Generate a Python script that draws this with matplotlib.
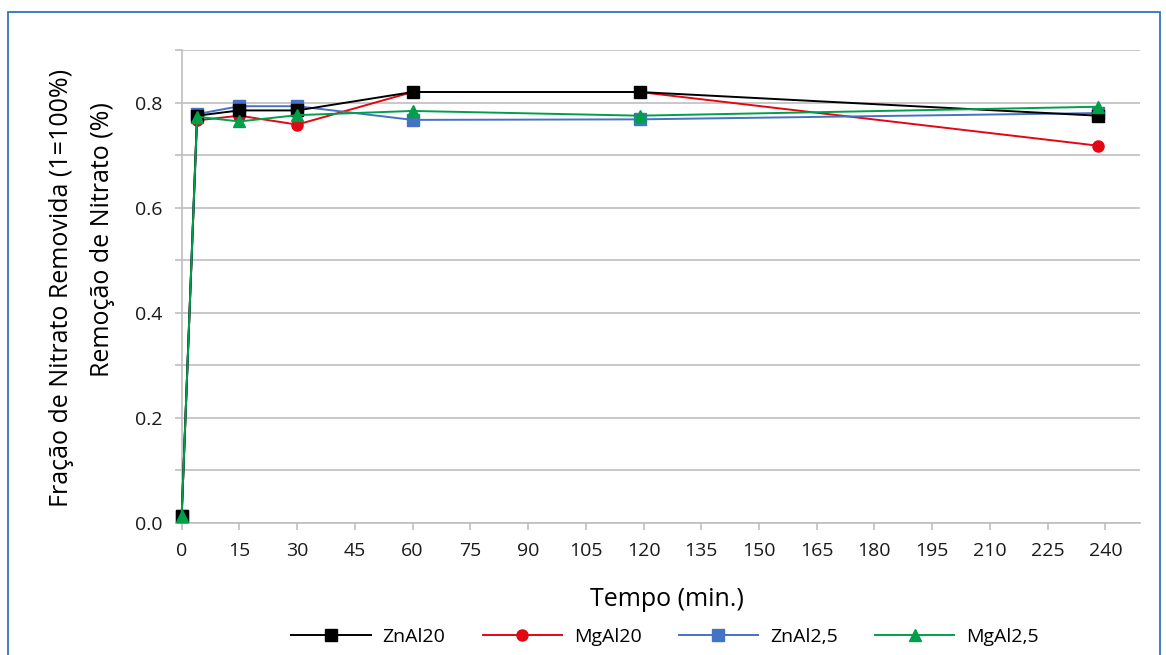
import matplotlib
matplotlib.use("Agg")
import matplotlib.pyplot as plt
from matplotlib.patches import Rectangle
from matplotlib.ticker import MultipleLocator, FuncFormatter

plt.rcParams['font.family'] = ['Open Sans', 'DejaVu Sans']

# tempo (min.) and fraction of nitrate removed
tempo = [0, 4, 15, 30, 60, 119, 238]
znal20 = [0.013, 0.775, 0.785, 0.785, 0.820, 0.820, 0.775]
mgal20 = [0.013, 0.766, 0.775, 0.758, 0.820, 0.820, 0.718]
znal25 = [0.013, 0.778, 0.793, 0.793, 0.767, 0.768, 0.780]
mgal25 = [0.013, 0.773, 0.764, 0.776, 0.784, 0.775, 0.792]

series = [
    # label, values, colour, marker, zorder
    ("ZnAl20", znal20, "#000000", "s", 5),
    ("MgAl20", mgal20, "#E30613", "o", 3),
    ("ZnAl2,5", znal25, "#4472C4", "s", 4),
    ("MgAl2,5", mgal25, "#00A04A", "^", 6),
]

fig = plt.figure(figsize=(11.66, 6.55), dpi=100)
ax = fig.add_axes([0.1558, 0.2015, 0.9777 - 0.1558, 0.9237 - 0.2015])

for label, vals, col, mk, z in series:
    ax.plot(tempo, vals, color=col, marker=mk, markersize=8 if mk != "^" else 8.5,
            linewidth=1.4, label=label, zorder=z, clip_on=False)

ax.set_xlim(0, 249)
ax.set_ylim(0, 0.9)
ax.xaxis.set_major_locator(MultipleLocator(15))
ax.yaxis.set_major_locator(MultipleLocator(0.1))
ax.yaxis.set_major_formatter(FuncFormatter(
    lambda v, p: "%.1f" % v if round(v * 10) % 2 == 0 and v < 0.85 else ""))

grey = "#BFBFBF"
for s in ["top", "right"]:
    ax.spines[s].set_visible(False)
for s in ["left", "bottom"]:
    ax.spines[s].set_color(grey)
    ax.spines[s].set_linewidth(1.2)
ax.tick_params(axis="both", colors=grey, length=5, width=1.2, labelcolor="#1a1a1a",
               labelsize=14)
ax.tick_params(axis="x", pad=9)
ax.tick_params(axis="y", pad=9)
ax.grid(axis="y", color=grey, linewidth=1.2)
ax.set_axisbelow(True)
ax.get_ygridlines()[-1].set_visible(False)

fig.text(667 / 1166, 1 - 600 / 655, "Tempo (min.)", ha="center", va="center", fontsize=18)
fig.text(62 / 1166, 1 - 288 / 655, "Fração de Nitrato Removida (1=100%)",
         rotation=90, ha="center", va="center", fontsize=18)
fig.text(103 / 1166, 1 - 240 / 655, "Remoção de Nitrato (%)",
         rotation=90, ha="center", va="center", fontsize=18)

fig.legend(loc="center", bbox_to_anchor=(665 / 1166, 1 - 637 / 655), ncol=4, frameon=False,
           fontsize=14, handlelength=4.1, columnspacing=1.9, handletextpad=0.6)

fig.patches.append(Rectangle((8 / 1166, -0.05), (1160 - 8) / 1166, 1.05 - 12 / 655,
                             transform=fig.transFigure, fill=False,
                             edgecolor="#2E75B6", linewidth=1.3))

fig.savefig("out.png", dpi=100)
